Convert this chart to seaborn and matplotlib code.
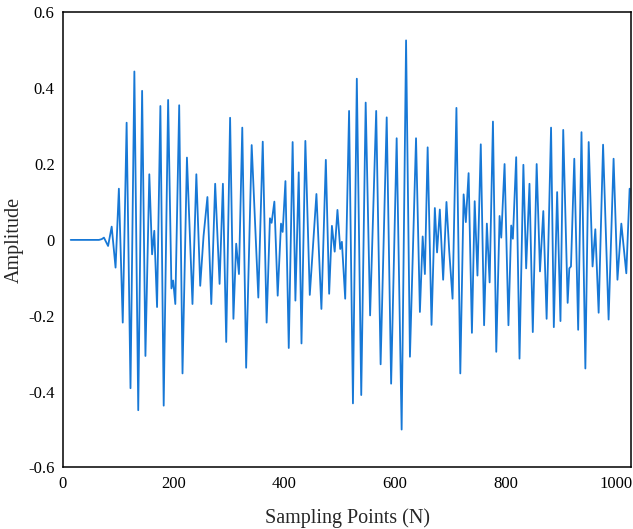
import matplotlib
matplotlib.use("Agg")
import matplotlib.pyplot as plt
import seaborn as sns
import pandas as pd
from matplotlib.ticker import FuncFormatter

# Extrema of the waveform (sampling point, amplitude)
sample_points = [
    14, 65, 70, 74, 77, 81.5, 88, 95, 101, 108, 115, 122, 129, 136, 143, 149, 156, 161, 165, 170,
    176, 182, 190, 196, 199, 203, 210, 216, 224, 234, 241, 248, 254, 261, 268, 275, 283, 289, 295,
    302, 308, 313, 318, 324, 331, 341, 353, 361, 368, 374, 377, 382, 388, 394, 397, 402, 408, 415,
    420, 426, 431, 438, 446, 458, 467, 475, 481, 486, 491, 496, 501, 504, 510, 517, 524, 531, 539,
    547, 555, 566, 574, 585, 593, 603, 612, 620, 627, 638, 645, 650, 654, 659, 666, 672, 676, 681,
    687, 693, 698, 704, 711, 718, 724, 728, 733, 739, 744, 749, 755, 761, 766, 771, 777, 783, 789,
    792, 798, 805, 810, 813, 819, 825, 832, 837, 843, 849, 856, 862, 868, 874, 882, 887, 893, 899,
    904, 912, 915, 918, 924, 931, 937, 944, 950, 957, 962, 968, 976, 986, 995, 1002, 1009, 1018, 1024,
]
amplitude = [
    0.0, 0.0, 0.002, 0.006, -0.003, -0.016, 0.035, -0.073, 0.135, -0.218, 0.309, -0.391, 0.444,
    -0.449, 0.393, -0.306, 0.173, -0.038, 0.024, -0.177,
    0.353, -0.437, 0.369, -0.128, -0.107, -0.169, 0.355, -0.352, 0.217, -0.169, 0.173, -0.121,
    0.01, 0.113, -0.169, 0.148, -0.116, 0.148, -0.269,
    0.322, -0.208, -0.01, -0.09, 0.296, -0.337, 0.25, -0.152, 0.259, -0.218, 0.057, 0.045, 0.101,
    -0.147, 0.043, 0.021, 0.155, -0.285, 0.258,
    -0.16, 0.178, -0.273, 0.261, -0.145, 0.121, -0.182, 0.211, -0.142, 0.037, -0.031, 0.079,
    -0.024, -0.005, -0.155, 0.34, -0.431, 0.425, -0.409,
    0.362, -0.199, 0.34, -0.328, 0.323, -0.379, 0.268, -0.5, 0.526, -0.308, 0.268, -0.19, 0.009,
    -0.09, 0.244, -0.224, 0.084, -0.033, 0.08,
    -0.105, 0.1, -0.03, -0.155, 0.348, -0.352, 0.12, 0.047, 0.176, -0.245, 0.102, -0.094, 0.252,
    -0.225, 0.043, -0.112, 0.312, -0.295, 0.063,
    0.006, 0.2, -0.225, 0.038, 0.003, 0.218, -0.313, 0.198, -0.075, 0.148, -0.243, 0.2, -0.083,
    0.076, -0.208, 0.296, -0.23, 0.126, -0.214,
    0.29, -0.166, -0.075, -0.07, 0.214, -0.237, 0.284, -0.339, 0.258, -0.07, 0.028, -0.192, 0.251,
    -0.21, 0.214, -0.105, 0.043, -0.088, 0.135,
]

x_ticks = [0, 200, 400, 600, 800, 1000]
y_ticks = [-0.6, -0.4, -0.2, 0, 0.2, 0.4, 0.6]

sns.set_style("white")
plt.rcParams["font.family"] = ["Liberation Serif", "DejaVu Serif"]

df = pd.DataFrame({"x": sample_points, "y": amplitude})

fig = plt.figure(figsize=(6.33, 5.29), dpi=100)
ax = fig.add_axes([0.0995, 0.1163, 0.8978, 0.8604])

sns.lineplot(data=df, x="x", y="y", ax=ax, color="#1778d6", linewidth=1.3,
             estimator=None, sort=False, solid_joinstyle="round")

ax.set_xlim(0, 1027)
ax.set_ylim(-0.6, 0.6)
ax.set_xticks(x_ticks)
ax.set_yticks(y_ticks)


def yfmt(v, pos):
    if abs(v) < 1e-9:
        return "0"
    return f"{v:.1f}"


ax.yaxis.set_major_formatter(FuncFormatter(yfmt))
ax.tick_params(axis="both", direction="in", length=5.5, width=1.1, labelsize=12,
               top=False, right=False, pad=6, colors="black")
for sp in ax.spines.values():
    sp.set_linewidth(1.1)
    sp.set_color("black")

ax.set_xlabel("Sampling Points (N)", fontsize=14.5, labelpad=12)
ax.set_ylabel("Amplitude", fontsize=14.5, labelpad=3)

fig.savefig("out.png", dpi=100)
